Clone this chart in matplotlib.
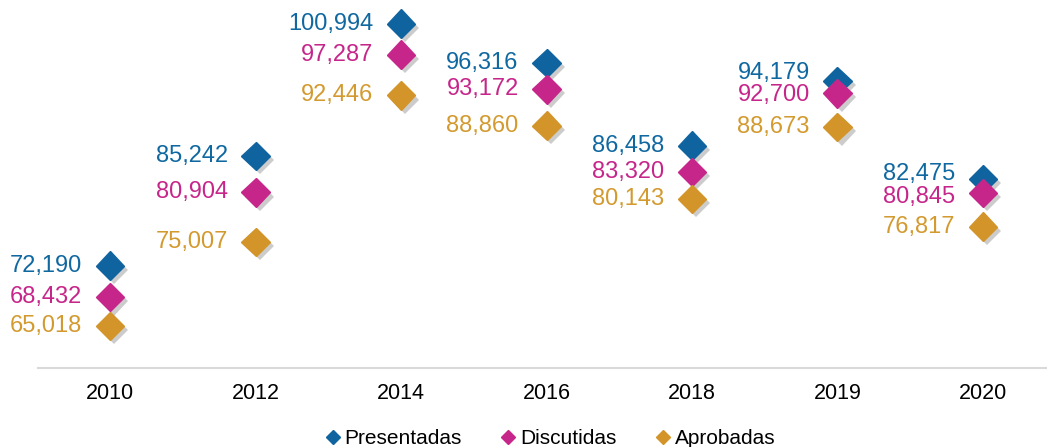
import matplotlib.pyplot as plt
import matplotlib.patheffects as pe
from matplotlib.lines import Line2D

# data
years = ["2010", "2012", "2014", "2016", "2018", "2019", "2020"]
presentadas = [72190, 85242, 100994, 96316, 86458, 94179, 82475]
discutidas = [68432, 80904, 97287, 93172, 83320, 92700, 80845]
aprobadas = [65018, 75007, 92446, 88860, 80143, 88673, 76817]

series = [
    ("Presentadas", presentadas, "#0F64A0", "#1068A0"),
    ("Discutidas", discutidas, "#C6268A", "#C6268A"),
    ("Aprobadas", aprobadas, "#D3952A", "#D39A30"),
]

# vertical nudges (points) for labels that would collide
nudge = {("Presentadas", 5): 6, ("Discutidas", 5): -1,
         ("Presentadas", 6): 3.5, ("Discutidas", 6): -3}

plt.rcParams['font.family'] = ['Liberation Sans', 'DejaVu Sans']

fig = plt.figure(figsize=(10.47, 4.47), dpi=100)
ax = fig.add_axes([38 / 1047, 79 / 447, 1 - 38 / 1047, 368 / 447])

shadow = [pe.SimplePatchShadow(offset=(3, -3), shadow_rgbFace="#808080", alpha=0.4),
          pe.Normal()]

x = list(range(len(years)))
for name, vals, col, tcol in series:
    ax.plot(x, vals, linestyle="none", marker="D", markersize=14.5,
            markerfacecolor=col, markeredgecolor=col, path_effects=shadow, zorder=3)
    for xi, v in zip(x, vals):
        dy = nudge.get((name, xi), 0)
        ax.annotate(f"{v:,}", (xi, v), xytext=(-20, dy), textcoords="offset points",
                    ha="right", va="center", fontsize=17, color=tcol)

ax.set_xlim(-0.495, 6.44)
ax.set_ylim(60000, 103800)
ax.set_xticks(x)
ax.set_xticklabels(years, fontsize=15.5)
ax.tick_params(axis="x", length=0, pad=11)
ax.set_yticks([])
for s in ["top", "right", "left"]:
    ax.spines[s].set_visible(False)
ax.spines["bottom"].set_color("#D9D9D9")
ax.spines["bottom"].set_linewidth(1.5)

handles = [Line2D([], [], linestyle="none", marker="D", markersize=7,
                  markerfacecolor=c, markeredgecolor=c) for _, _, c, _ in series]
fig.legend(handles, [s[0] for s in series], loc="center", bbox_to_anchor=(0.526, 1 - 439 / 447),
           ncol=3, frameon=False, fontsize=15, handlelength=0.6, handletextpad=0.25,
           columnspacing=1.95, borderaxespad=0)

fig.savefig("out.png", dpi=100)
